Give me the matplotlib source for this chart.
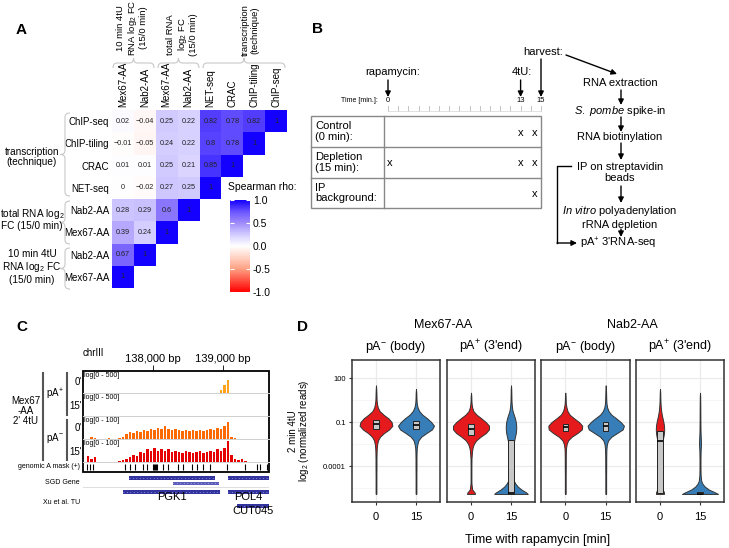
import numpy as np
import matplotlib
matplotlib.use("Agg")
import matplotlib.pyplot as plt
from matplotlib.path import Path
from matplotlib.patches import PathPatch, Rectangle
from matplotlib.colors import LinearSegmentedColormap
from matplotlib.ticker import FixedLocator, NullFormatter

plt.rcParams['font.family'] = ['Liberation Sans', 'DejaVu Sans']
plt.rcParams['mathtext.fontset'] = 'custom'
plt.rcParams['mathtext.rm'] = 'Liberation Sans'
plt.rcParams['mathtext.it'] = 'Liberation Sans:italic'
plt.rcParams['mathtext.bf'] = 'Liberation Sans:bold'

W, H = 729, 548

# ---------------- data ----------------
# panel A: Spearman correlation, rows listed top -> bottom
heat_cols = ["Mex67-AA", "Nab2-AA", "Mex67-AA", "Nab2-AA", "NET-seq", "CRAC", "ChIP-tiling", "ChIP-seq"]
heat_rows = heat_cols[::-1]
rho = [
    [0.02, -0.04, 0.25, 0.22, 0.82, 0.78, 0.82, 1],
    [-0.01, -0.05, 0.24, 0.22, 0.8, 0.78, 1],
    [0.01, 0.01, 0.25, 0.21, 0.85, 1],
    [0, -0.02, 0.27, 0.25, 1],
    [0.28, 0.29, 0.6, 1],
    [0.39, 0.24, 1],
    [0.67, 1],
    [1],
]

# panel B: timeline marks (minutes)
b_rows = ["Control\n(0 min):", "Depletion\n(15 min):", "IP\nbackground:"]
b_marks = [[13, 15], [0, 13, 15], [15]]
b_events = [("rapamycin:", 0), ("4tU:", 13)]
flow_steps = ["RNA extraction", "$\\it{S.\\ pombe}$ spike-in", "RNA biotinylation",
              "IP on streptavidin\nbeads", "$\\it{In\\ vitro}$ polyadenylation\nrRNA depletion"]

# panel C: coverage in 50 bp bins starting at chrIII:137,000 (fraction of track height)
bin_start = 137000
bin_size = 50
cov_pAp_0 = [0] * 39 + [0.15, 0.35, 0.6] + [0] * 11
cov_pAp_15 = [0] * 53
cov_pAm_0 = [0, 0, 0.1, 0.05, 0, 0, 0, 0.03, 0, 0, 0.03, 0.08, 0.2, 0.3, 0.25, 0.35, 0.3, 0.4,
             0.35, 0.45, 0.4, 0.5, 0.45, 0.55, 0.45, 0.4, 0.45, 0.4, 0.35, 0.4, 0.35, 0.4, 0.35,
             0.4, 0.35, 0.4, 0.45, 0.4, 0.5, 0.45, 0.55, 0.75, 0.1, 0.05, 0, 0, 0, 0, 0, 0, 0, 0, 0]
cov_pAm_15 = [0, 0.25, 0.15, 0.2, 0, 0, 0, 0, 0, 0, 0.05, 0.1, 0.15, 0.2, 0.3, 0.25, 0.45, 0.4,
              0.55, 0.5, 0.6, 0.5, 0.55, 0.5, 0.55, 0.45, 0.5, 0.45, 0.4, 0.5, 0.45, 0.4, 0.45,
              0.5, 0.4, 0.45, 0.5, 0.45, 0.55, 0.5, 0.6, 0.9, 0.3, 0.15, 0.1, 0.15, 0.05, 0, 0, 0, 0, 0, 0]
track_names = ["log[0 - 500]", "log[0 - 500]", "log[0 - 100]", "log[0 - 100]"]
a_mask = [137057, 137100, 137143, 137600, 137671, 137743, 137857, 137914, 138000, 138015,
          138029, 138043, 138057, 138143, 138214, 138357, 138429, 138557, 138629, 138714,
          138814, 139057, 139314, 139486, 139529, 139629]
sgd_genes = [(137650, 138890, 0), (139070, 139700, 0), (138290, 138940, 1)]
xu_tus = [(137570, 138960, 0, "PGK1"), (139070, 139700, 0, "POL4"), (139200, 139660, 1, "CUT045")]

# panel D: violin outlines (log10 level, half-width) and box stats (log10)
v_levels = [-5.9, -5.8, -5.6, -5.4, -5.2, -5.0, -4.6, -4.0, -3.5, -3.0, -2.75, -2.5, -2.25, -2.0,
            -1.75, -1.5, -1.25, -1.0, -0.75, -0.5, -0.25, 0.0, 0.25, 0.5, 0.75, 1.0, 1.25, 1.5]
v_widths = [
    [0.008, 0.01, 0.01, 0.01, 0.01, 0.01, 0.01, 0.012, 0.012, 0.015, 0.02, 0.03, 0.05, 0.1, 0.2, 0.33,
     0.41, 0.39, 0.31, 0.19, 0.09, 0.045, 0.025, 0.015, 0.012, 0.01, 0.006, 0],
    [0.008, 0.01, 0.01, 0.01, 0.01, 0.01, 0.01, 0.012, 0.012, 0.015, 0.02, 0.035, 0.06, 0.13, 0.26, 0.40,
     0.45, 0.38, 0.28, 0.16, 0.08, 0.04, 0.02, 0.013, 0.01, 0.008, 0, 0],
    [0.1, 0.09, 0.03, 0.02, 0.012, 0.01, 0.01, 0.01, 0.012, 0.025, 0.04, 0.07, 0.13, 0.24, 0.37, 0.45,
     0.45, 0.37, 0.26, 0.14, 0.06, 0.03, 0.015, 0.01, 0.008, 0, 0, 0],
    [0.42, 0.38, 0.26, 0.17, 0.11, 0.07, 0.045, 0.035, 0.035, 0.04, 0.05, 0.06, 0.08, 0.1, 0.12, 0.13,
     0.13, 0.12, 0.1, 0.07, 0.04, 0.025, 0.016, 0.012, 0.01, 0.008, 0.006, 0],
    [0.008, 0.01, 0.01, 0.01, 0.01, 0.01, 0.01, 0.012, 0.012, 0.015, 0.02, 0.035, 0.07, 0.16, 0.3, 0.41,
     0.42, 0.34, 0.22, 0.11, 0.055, 0.03, 0.015, 0.01, 0.008, 0, 0, 0],
    [0.008, 0.01, 0.01, 0.01, 0.01, 0.01, 0.01, 0.012, 0.012, 0.015, 0.02, 0.03, 0.06, 0.14, 0.28, 0.42,
     0.45, 0.37, 0.26, 0.14, 0.07, 0.035, 0.02, 0.014, 0.011, 0.009, 0.006, 0],
    [0.1, 0.1, 0.07, 0.05, 0.04, 0.035, 0.03, 0.03, 0.03, 0.035, 0.04, 0.05, 0.065, 0.085, 0.1, 0.105,
     0.1, 0.085, 0.065, 0.045, 0.03, 0.02, 0.014, 0.01, 0.008, 0.006, 0, 0],
    [0.45, 0.38, 0.22, 0.12, 0.06, 0.03, 0.015, 0.012, 0.012, 0.015, 0.02, 0.024, 0.022, 0.018, 0.014,
     0.012, 0.011, 0.01, 0.009, 0.009, 0.008, 0.008, 0.007, 0.006, 0.005, 0, 0, 0],
]
v_boxes = [(-1.45, -1.1, -0.85), (-1.5, -1.2, -0.95), (-1.9, -1.5, -1.15), (-5.9, -5.85, -2.2),
           (-1.6, -1.35, -1.1), (-1.6, -1.3, -1.0), (-5.85, -2.3, -1.6), (-5.9, -5.88, -5.8)]
d_strips = ["pA$^{-}$ (body)", "pA$^{+}$ (3'end)", "pA$^{-}$ (body)", "pA$^{+}$ (3'end)"]
d_times = ["0", "15"]


def box(x0, y0, x1, y1):
    return [x0 / W, 1 - y1 / H, (x1 - x0) / W, (y1 - y0) / H]


fig = plt.figure(figsize=(7.29, 5.48), dpi=100)

# ---------------- panel A ----------------
cmap = LinearSegmentedColormap.from_list("rho", [
    (0.0, "#ff0000"), (0.25, "#ffa082"), (0.375, "#ffd2c3"), (0.5, "#ffffff"),
    (0.625, "#d2cbff"), (0.75, "#a08cfa"), (0.875, "#6a55ff"), (1.0, "#1400ff")])
axa = fig.add_axes(box(112, 110, 287, 288))
n = len(heat_cols)
M = np.full((n, n), np.nan)
for i, row in enumerate(rho):
    M[i, :len(row)] = row
im = axa.pcolormesh(np.arange(n + 1), np.arange(n + 1), np.ma.masked_invalid(M),
                    cmap=cmap, vmin=-1, vmax=1)
axa.set_xlim(0, n)
axa.set_ylim(n, 0)
for i, row in enumerate(rho):
    for j, v in enumerate(row):
        axa.text(j + 0.5, i + 0.5, f"{v:g}".replace("-", "\u2212"), ha="center", va="center",
                 fontsize=5.2, color="#222222")
axa.xaxis.tick_top()
axa.set_xticks(np.arange(n) + 0.5)
axa.set_xticklabels(heat_cols, rotation=90, fontsize=7)
axa.set_yticks(np.arange(n) + 0.5)
axa.set_yticklabels(heat_rows, fontsize=7)
axa.tick_params(length=0, pad=2)
for s in axa.spines.values():
    s.set_visible(False)

cax = fig.add_axes(box(230, 200, 250, 292))
cb = fig.colorbar(im, cax=cax, ticks=[-1, -0.5, 0, 0.5, 1])
cb.outline.set_visible(False)
cb.ax.set_yticklabels(["-1.0", "-0.5", "0.0", "0.5", "1.0"])
cb.ax.tick_params(left=True, right=True, labelleft=False, labelright=True, direction="in",
                  color="white", length=3, width=0.8, labelsize=7.5, pad=2)

# overlay for annotations in pixel coordinates
ov = fig.add_axes([0, 0, 1, 1])
ov.set_xlim(0, W)
ov.set_ylim(H, 0)
ov.axis("off")
ov.patch.set_alpha(0)
ov.set_zorder(10)


def hbrace(x0, x1, y, d):
    xm = (x0 + x1) / 2
    r = min(4, (x1 - x0) / 6)
    verts = [(x0, y + d), (x0, y), (x0 + r, y), (xm - r, y), (xm, y), (xm, y - d), (xm, y),
             (xm + r, y), (x1 - r, y), (x1, y), (x1, y + d)]
    codes = [Path.MOVETO, Path.CURVE3, Path.CURVE3, Path.LINETO, Path.CURVE3, Path.CURVE3,
             Path.CURVE3, Path.CURVE3, Path.LINETO, Path.CURVE3, Path.CURVE3]
    ov.add_patch(PathPatch(Path(verts, codes), fill=False, edgecolor="#c8c8c8", lw=0.8))


def vbrace(y0, y1, x, d):
    ym = (y0 + y1) / 2
    r = min(4, (y1 - y0) / 6)
    verts = [(x + d, y0), (x, y0), (x, y0 + r), (x, ym - r), (x, ym), (x - d, ym), (x, ym),
             (x, ym + r), (x, y1 - r), (x, y1), (x + d, y1)]
    codes = [Path.MOVETO, Path.CURVE3, Path.CURVE3, Path.LINETO, Path.CURVE3, Path.CURVE3,
             Path.CURVE3, Path.CURVE3, Path.LINETO, Path.CURVE3, Path.CURVE3]
    ov.add_patch(PathPatch(Path(verts, codes), fill=False, edgecolor="#c8c8c8", lw=0.8))


hbrace(113, 154, 63, 5)
hbrace(158, 199, 63, 5)
hbrace(203, 285, 63, 5)
vbrace(113, 196, 65, 5)
vbrace(201, 244, 65, 5)
vbrace(248, 289, 65, 5)

ov.text(132, 56, "10 min 4tU\nRNA log$_2$ FC\n(15/0 min)", rotation=90, ha="center", va="bottom",
        fontsize=6.8, linespacing=1.1, multialignment="center")
ov.text(182, 56, "total RNA\nlog$_2$ FC\n(15/0 min)", rotation=90, ha="center", va="bottom",
        fontsize=6.8, linespacing=1.1, multialignment="center")
ov.text(250, 56, "transcription\n(technique)", rotation=90, ha="center", va="bottom",
        fontsize=6.8, linespacing=1.1, multialignment="center")
ov.text(32, 157, "transcription\n(technique)", ha="center", va="center", fontsize=7.2, linespacing=1.1)
ov.text(32, 219, "total RNA log$_2$\nFC (15/0 min)", ha="center", va="center", fontsize=7.2,
        linespacing=1.1)
ov.text(32, 267, "10 min 4tU\nRNA log$_2$ FC\n(15/0 min)", ha="center", va="center", fontsize=7.2,
        linespacing=1.1)
ov.text(228, 187, "Spearman rho:", ha="left", va="center", fontsize=7.5)

# panel letters
for lab, x, y in [("A", 21, 30), ("B", 318, 29), ("C", 22, 327), ("D", 303, 327)]:
    ov.text(x, y, lab, ha="center", va="center", fontsize=11, fontweight="bold")

# ---------------- panel B ----------------
def tx(t):
    return 388 + t * 10.2


def arrow(x0, y0, x1, y1):
    ov.annotate("", xy=(x1, y1), xytext=(x0, y0),
                arrowprops=dict(arrowstyle="-|>", color="black", lw=1, mutation_scale=8,
                                shrinkA=0, shrinkB=0))


ov.text(378, 100, "Time [min.]:", ha="right", va="center", fontsize=5)
for t in [0, 13, 15]:
    ov.text(tx(t), 100, str(t), ha="center", va="center", fontsize=5.5)
for t in range(16):
    ov.plot([tx(t), tx(t)], [106, 111], color="#bbbbbb", lw=0.6)
ov.plot([tx(0), tx(15)], [111, 111], color="#dddddd", lw=0.6)
for lab, t in b_events:
    ov.text(tx(t) + (5 if t == 0 else 1), 72, lab, ha="center", va="center", fontsize=8)
    arrow(tx(t), 80, tx(t), 97)
ov.text(523, 52, "harvest:", ha="left", va="center", fontsize=8)
arrow(tx(15), 59, tx(15), 97)
arrow(566, 55, 617, 74)

tab_y = [116, 147, 178, 208]
ov.add_patch(Rectangle((311, 116), 230, 92, fill=False, edgecolor="#888888", lw=1))
ov.plot([384, 384], [116, 208], color="#888888", lw=1)
for yy in tab_y[1:3]:
    ov.plot([311, 541], [yy, yy], color="#888888", lw=1)
for k, (lab, marks) in enumerate(zip(b_rows, b_marks)):
    yc = (tab_y[k] + tab_y[k + 1]) / 2
    ov.text(315, yc, lab, ha="left", va="center", fontsize=8, linespacing=1.05)
    for t in marks:
        xx = tx(t) + (2 if t == 0 else 0) - (6 if t == 15 else 0)
        ov.text(xx, yc + 1, "x", ha="center", va="center", fontsize=8)

flow_y = [83, 111, 137, 172.5, 217]
for lab, yy in zip(flow_steps, flow_y):
    ov.text(620, yy, lab, ha="center", va="center", fontsize=8, linespacing=1.15)
for y0, y1 in [(90, 105), (117, 132), (143, 160), (186, 203), (229, 237)]:
    arrow(621, y0, 621, y1)
ov.plot([571, 557, 557], [166, 166, 243], color="black", lw=1)
arrow(557, 243, 577, 243)
ov.text(580, 243, "pA$^{+}$ 3'RNA-seq", ha="left", va="center", fontsize=8)

# ---------------- panel C ----------------
gx0, gx1 = 137000, 139657
bins = bin_start + bin_size * np.arange(len(cov_pAm_0))
track_y = [(371, 393), (393, 416), (416, 439), (439, 462)]
track_cov = [cov_pAp_0, cov_pAp_15, cov_pAm_0, cov_pAm_15]
track_col = ["#ffa31a", "#ffa31a", "#ff6a00", "#e60000"]
for (y0, y1), cov, col, name in zip(track_y, track_cov, track_col, track_names):
    axt = fig.add_axes(box(83, y0, 269, y1))
    axt.bar(bins, cov, width=bin_size * 0.85, align="edge", color=col, linewidth=0)
    axt.set_xlim(gx0, gx1)
    axt.set_ylim(0, 1)
    axt.axis("off")
    axt.text(0.005, 0.97, name, transform=axt.transAxes, ha="left", va="top", fontsize=5)
for yy in [393, 416, 439, 462]:
    ov.plot([83, 269], [yy, yy], color="#d0d0d0", lw=0.7)

axm = fig.add_axes(box(83, 462, 269, 472))
axm.vlines(a_mask, 0.2, 0.85, color="black", lw=0.8)
axm.set_xlim(gx0, gx1)
axm.set_ylim(0, 1)
axm.axis("off")
ov.add_patch(Rectangle((83, 371), 186, 101, fill=False, edgecolor="black", lw=1.3))

axr = fig.add_axes(box(83, 365, 269, 371))
axr.set_xlim(gx0, gx1)
axr.axis("off")
for pos in [138000, 139000]:
    axr.text(pos, 1.1, f"{pos:,} bp", transform=axr.get_xaxis_transform(), ha="center",
             va="bottom", fontsize=8)
    axr.vlines(pos, 0.1, 0.9, color="black", lw=0.6)
ov.text(83, 353, "chrIII", ha="left", va="center", fontsize=7)

axg = fig.add_axes(box(83, 472, 269, 520))
axg.set_xlim(gx0, gx1)
axg.set_ylim(48, 0)
axg.axis("off")
sgd_row_y = [(4, 4), (9.5, 3)]
for s, e, r in sgd_genes:
    yy, hh = sgd_row_y[r]
    axg.broken_barh([(s, e - s)], (yy, hh), facecolor="#33339f" if r == 0 else "#5c5cbc")
    axg.plot([s, e], [yy + hh / 2] * 2, color="white", lw=0.5, ls=(0, (1, 4)), alpha=0.8)
axg.plot([gx0, gx1], [15, 15], color="#dddddd", lw=0.7)
xu_row_y = [18, 32]
for s, e, r, name in xu_tus:
    yy = xu_row_y[r]
    axg.broken_barh([(s, e - s)], (yy, 4), facecolor="#33339f")
    axg.plot([s, e], [yy + 2] * 2, color="white", lw=0.5, ls=(0, (1, 4)), alpha=0.8)
    axg.text(min((s + e) / 2, (s + gx1) / 2), yy + 7.5, name, ha="center", va="center", fontsize=8)

ov.text(80, 466, "genomic A mask (+)", ha="right", va="center", fontsize=5)
ov.text(80, 482, "SGD Gene", ha="right", va="center", fontsize=5)
ov.text(80, 502, "Xu et al. TU", ha="right", va="center", fontsize=5)
ov.text(26, 411, "Mex67\n-AA\n2' 4tU", ha="center", va="center", fontsize=7, linespacing=1.05)
ov.plot([43, 43], [373, 460], color="#555555", lw=1.5)
ov.plot([67, 67], [373, 415], color="#555555", lw=1.5)
ov.plot([67, 67], [420, 460], color="#555555", lw=1.5)
ov.text(55, 394, "pA$^{+}$", ha="center", va="center", fontsize=7)
ov.text(55, 438, "pA$^{-}$", ha="center", va="center", fontsize=7)
for lab, yy in [("0'", 382), ("15'", 406), ("0'", 428), ("15'", 452)]:
    ov.text(82, yy, lab, ha="right", va="center", fontsize=7)

# ---------------- panel D ----------------
panel_x = [(352, 440), (447, 535), (541, 630), (636, 724)]
vcols = ["#e41a1c", "#377eb8"]
lv = np.array(v_levels)
for p, (x0, x1) in enumerate(panel_x):
    axd = fig.add_axes(box(x0, 360, x1, 502))
    axd.set_yscale("log")
    axd.set_ylim(10 ** -6.45, 10 ** 3.23)
    axd.set_xlim(0.4, 2.6)
    for k in range(2):
        idx = 2 * p + k
        w = np.array(v_widths[idx])
        last = np.nonzero(w > 0)[0].max()
        sl = slice(0, min(last + 2, len(w)))
        axd.fill_betweenx(10 ** lv[sl], k + 1 - w[sl], k + 1 + w[sl], facecolor=vcols[k],
                          edgecolor="#333333", lw=0.7, zorder=3)
        q1, med, q3 = v_boxes[idx]
        axd.bar(k + 1, 10 ** q3 - 10 ** q1, bottom=10 ** q1, width=0.13, color="#c8c8c8",
                edgecolor="#222222", lw=0.7, zorder=4)
        axd.hlines(10 ** med, k + 1 - 0.065, k + 1 + 0.065, color="black", lw=1.2, zorder=5)
    axd.yaxis.set_major_locator(FixedLocator([1e2, 1e-1, 1e-4]))
    axd.yaxis.set_minor_locator(FixedLocator([10 ** 0.5, 10 ** -2.5, 10 ** -5.5]))
    axd.yaxis.set_minor_formatter(NullFormatter())
    axd.set_yticklabels(["100", "0.1", "0.0001"])
    axd.set_xticks([1, 2])
    axd.set_xticklabels(d_times, fontsize=8)
    axd.grid(True, which="major", color="#ebebeb", lw=0.9)
    axd.grid(True, which="minor", axis="y", color="#f3f3f3", lw=0.5)
    axd.set_axisbelow(True)
    axd.tick_params(axis="x", length=2.5, color="#333333", pad=5)
    axd.tick_params(axis="y", which="major", length=2.5, color="#333333", labelsize=5.5, pad=2)
    axd.tick_params(axis="y", which="minor", length=0)
    if p > 0:
        axd.tick_params(axis="y", which="major", left=False, labelleft=False)
    for s in axd.spines.values():
        s.set_color("#333333")
        s.set_linewidth(1.1)
    ov.text((x0 + x1) / 2, 347, d_strips[p], ha="center", va="center", fontsize=9)

ov.text((352 + 535) / 2, 325, "Mex67-AA", ha="center", va="center", fontsize=9)
ov.text((541 + 724) / 2, 325, "Nab2-AA", ha="center", va="center", fontsize=9)
ov.text(538, 540, "Time with rapamycin [min]", ha="center", va="center", fontsize=9)
ov.text(293, 431, "2 min 4tU", rotation=90, ha="center", va="center", fontsize=7)
ov.text(304, 431, "log$_2$ (normalized reads)", rotation=90, ha="center", va="center", fontsize=7)

fig.savefig("out.png", dpi=100)
